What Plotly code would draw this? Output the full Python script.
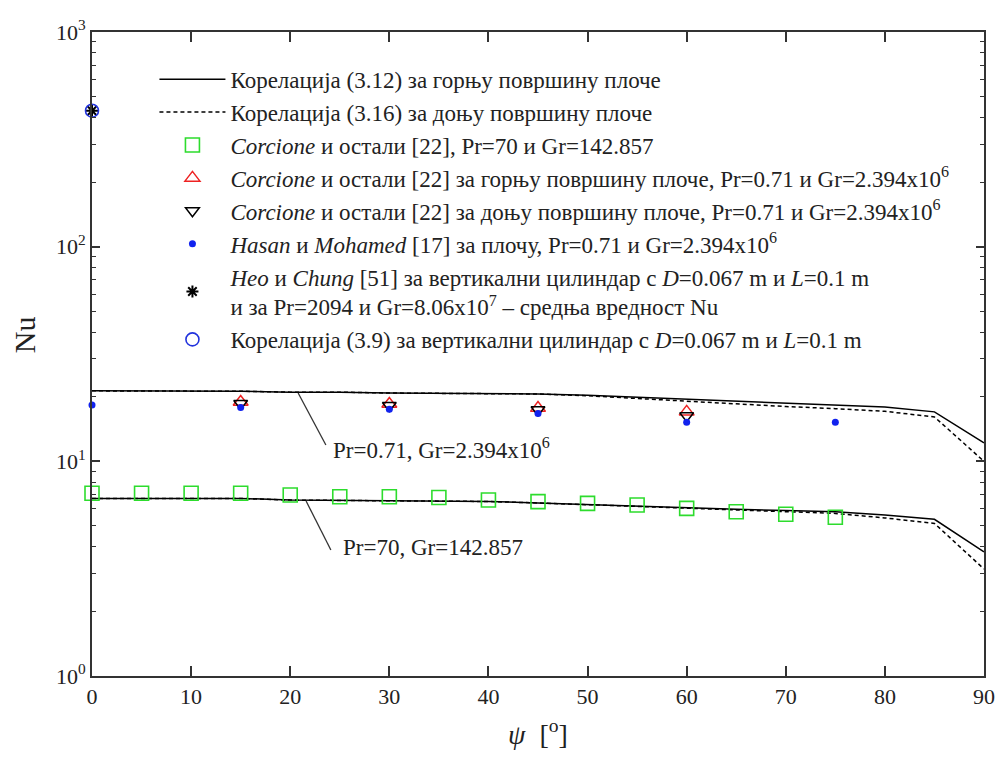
import plotly.graph_objects as go

# ---------------- data ----------------
psi_corr = [0, 5, 10, 15, 20, 25, 30, 35, 40, 45, 50, 55, 60, 65, 70, 75, 80, 85, 90]
# Pr=0.71, Gr=2.394e6
nu_upper_solid = [21.3, 21.3, 21.3, 21.2, 21.0, 21.0, 20.8, 20.7, 20.7, 20.6, 20.3, 19.9,
                  19.4, 19.0, 18.6, 18.3, 17.9, 17.0, 12.2]
nu_upper_dashed = [21.3, 21.3, 21.3, 21.2, 21.0, 21.0, 20.8, 20.7, 20.7, 20.6, 20.2, 19.6,
                   19.0, 18.5, 18.0, 17.6, 17.1, 16.1, 10.0]
# Pr=70, Gr=142.857
nu_lower_solid = [6.72, 6.72, 6.72, 6.72, 6.60, 6.58, 6.55, 6.52, 6.50, 6.40, 6.28, 6.18,
                  6.08, 5.98, 5.90, 5.82, 5.62, 5.37, 3.79]
nu_lower_dashed = [6.72, 6.72, 6.72, 6.72, 6.60, 6.58, 6.55, 6.52, 6.50, 6.40, 6.28, 6.16,
                   6.04, 5.94, 5.84, 5.72, 5.45, 5.14, 3.15]

psi_corcione70 = [0, 5, 10, 15, 20, 25, 30, 35, 40, 45, 50, 55, 60, 65, 70, 75]
nu_corcione70 = [7.1, 7.1, 7.1, 7.1, 6.97, 6.84, 6.84, 6.78, 6.6, 6.49, 6.37, 6.26,
                 6.04, 5.82, 5.67, 5.49]

psi_corcione071 = [15, 30, 45, 60]
nu_corcione_top = [18.9, 18.5, 17.7, 17.0]
nu_corcione_bottom = [18.6, 18.2, 17.4, 16.3]

psi_hasan = [0, 15, 30, 45, 60, 75]
nu_hasan = [18.3, 17.8, 17.5, 16.7, 15.2, 15.2]

psi_heo = [0]
nu_heo = [430]
psi_corr39 = [0]
nu_corr39 = [430]

y_tickvals = [1, 10, 100, 1000]
y_ticktext = ['10<sup>0</sup>', '10<sup>1</sup>', '10<sup>2</sup>', '10<sup>3</sup>']
y_minor = [m * d for d in (1, 10, 100) for m in range(2, 10)]
x_tickvals = [0, 10, 20, 30, 40, 50, 60, 70, 80, 90]

names = [
    'Корелација (3.12) за горњу површину плоче',
    'Корелација (3.16) за доњу површину плоче',
    '<i>Corcione</i> и остали [22], Pr=70 и Gr=142.857',
    '<i>Corcione</i> и остали [22] за горњу површину плоче, Pr=0.71 и Gr=2.394x10<sup>6</sup>',
    '<i>Corcione</i> и остали [22] за доњу површину плоче, Pr=0.71 и Gr=2.394x10<sup>6</sup>',
    '<i>Hasan</i> и <i>Mohamed</i> [17] за плочу, Pr=0.71 и Gr=2.394x10<sup>6</sup>',
    '<i>Heo</i> и <i>Chung</i> [51] за вертикални цилиндар с <i>D</i>=0.067 m и <i>L</i>=0.1 m'
    '<br>и за Pr=2094 и Gr=8.06x10<sup>7</sup> – средња вредност Nu',
    'Корелација (3.9) за вертикални цилиндар с <i>D</i>=0.067 m и <i>L</i>=0.1 m',
]

SERIF = 'Liberation Serif'
TXT = '#222222'

fig = go.Figure()
fig.add_trace(go.Scatter(x=psi_corr, y=nu_upper_solid, mode='lines', name=names[0],
                         legendgroup='g1', line=dict(color='black', width=1.5)))
fig.add_trace(go.Scatter(x=psi_corr, y=nu_upper_dashed, mode='lines', name=names[1],
                         legendgroup='g2', line=dict(color='black', width=1.5, dash='4px,3px')))
fig.add_trace(go.Scatter(x=psi_corr, y=nu_lower_solid, mode='lines', name=names[0],
                         legendgroup='g1', showlegend=False, line=dict(color='black', width=1.5)))
fig.add_trace(go.Scatter(x=psi_corr, y=nu_lower_dashed, mode='lines', name=names[1],
                         legendgroup='g2', showlegend=False,
                         line=dict(color='black', width=1.5, dash='4px,3px')))
fig.add_trace(go.Scatter(x=psi_corcione70, y=nu_corcione70, mode='markers', name=names[2],
                         legendgroup='g3',
                         marker=dict(symbol='square-open', size=14, color='#2ddc2d',
                                     line=dict(width=1.6, color='#2ddc2d'))))
fig.add_trace(go.Scatter(x=psi_corcione071, y=nu_corcione_top, mode='markers', name=names[3],
                         legendgroup='g4',
                         marker=dict(symbol='triangle-up-open', size=13, color='#ee2222',
                                     line=dict(width=1.5, color='#ee2222'))))
fig.add_trace(go.Scatter(x=psi_corcione071, y=nu_corcione_bottom, mode='markers', name=names[4],
                         legendgroup='g5',
                         marker=dict(symbol='triangle-down-open', size=12, color='black',
                                     line=dict(width=1.5, color='black'))))
fig.add_trace(go.Scatter(x=psi_hasan, y=nu_hasan, mode='markers', name=names[5],
                         legendgroup='g6',
                         marker=dict(symbol='circle', size=7, color='#1122ee')))
fig.add_trace(go.Scatter(x=psi_heo, y=nu_heo, mode='markers', name=names[6],
                         legendgroup='g7',
                         marker=dict(symbol='asterisk-open', size=10, color='black',
                                     line=dict(width=2, color='black'))))
fig.add_trace(go.Scatter(x=psi_corr39, y=nu_corr39, mode='markers', name=names[7],
                         legendgroup='g8',
                         marker=dict(symbol='circle-open', size=13, color='#2233dd',
                                     line=dict(width=1.6, color='#2233dd'))))

for tr in fig.data:
    tr.cliponaxis = False

fig.update_layout(
    width=1007, height=758,
    margin=dict(l=92, r=15, t=32, b=82),
    paper_bgcolor='white', plot_bgcolor='white',
    font=dict(family=SERIF, color=TXT, size=19),
    showlegend=True,
    legend=dict(x=0.07, y=0.96, xanchor='left', yanchor='top',
                bgcolor='rgba(255,255,255,0)', traceorder='grouped',
                tracegroupgap=0, font=dict(family=SERIF, size=23, color=TXT),
                itemwidth=66),
)

fig.update_xaxes(range=[0, 90], tickvals=x_tickvals, ticks='inside', ticklen=10,
                 tickwidth=1.5, tickcolor='#333333', showline=True, linecolor='#333333',
                 linewidth=1.8, mirror='ticks', showgrid=False, zeroline=False,
                 tickfont=dict(family=SERIF, size=22, color=TXT))
fig.update_yaxes(type='log', range=[0, 3], tickvals=y_tickvals, ticktext=y_ticktext,
                 ticks='inside', ticklen=8, tickwidth=1.5, tickcolor='#333333',
                 showline=True, linecolor='#333333', linewidth=1.8, mirror='ticks',
                 showgrid=False, zeroline=False,
                 minor=dict(tickvals=y_minor, ticks='inside', ticklen=4, tickwidth=1.3,
                            tickcolor='#333333', showgrid=False),
                 tickfont=dict(family=SERIF, size=22, color=TXT))

# axis titles
fig.add_annotation(text='Nu', xref='paper', yref='paper', x=-0.0756, y=0.53,
                   xanchor='center', yanchor='middle',
                   textangle=-90, showarrow=False,
                   font=dict(family=SERIF, size=30, color=TXT))
fig.add_annotation(text='<i>ψ</i>  [<sup>o</sup>]', xref='paper', yref='paper',
                   x=0.5, y=-0.0885, xanchor='center', yanchor='middle', showarrow=False,
                   font=dict(family=SERIF, size=28, color=TXT))

# curve labels with leader lines
fig.add_annotation(text='Pr=0.71, Gr=2.394x10<sup>6</sup>', xref='paper', yref='paper',
                   x=0.2678, y=0.354, xanchor='left', yanchor='middle', showarrow=False,
                   font=dict(family=SERIF, size=23, color=TXT))
fig.add_annotation(text='Pr=70, Gr=142.857', xref='paper', yref='paper',
                   x=0.2789, y=0.1988, xanchor='left', yanchor='middle', showarrow=False,
                   font=dict(family=SERIF, size=23, color=TXT))
fig.add_shape(type='line', xref='paper', yref='paper', x0=0.2311, y0=0.4394, x1=0.2622, y1=0.3587,
              line=dict(color='#333333', width=1.3))
fig.add_shape(type='line', xref='paper', yref='paper', x0=0.24, y0=0.2717, x1=0.2678, y1=0.1957,
              line=dict(color='#333333', width=1.3))

fig.write_html('out.html')
